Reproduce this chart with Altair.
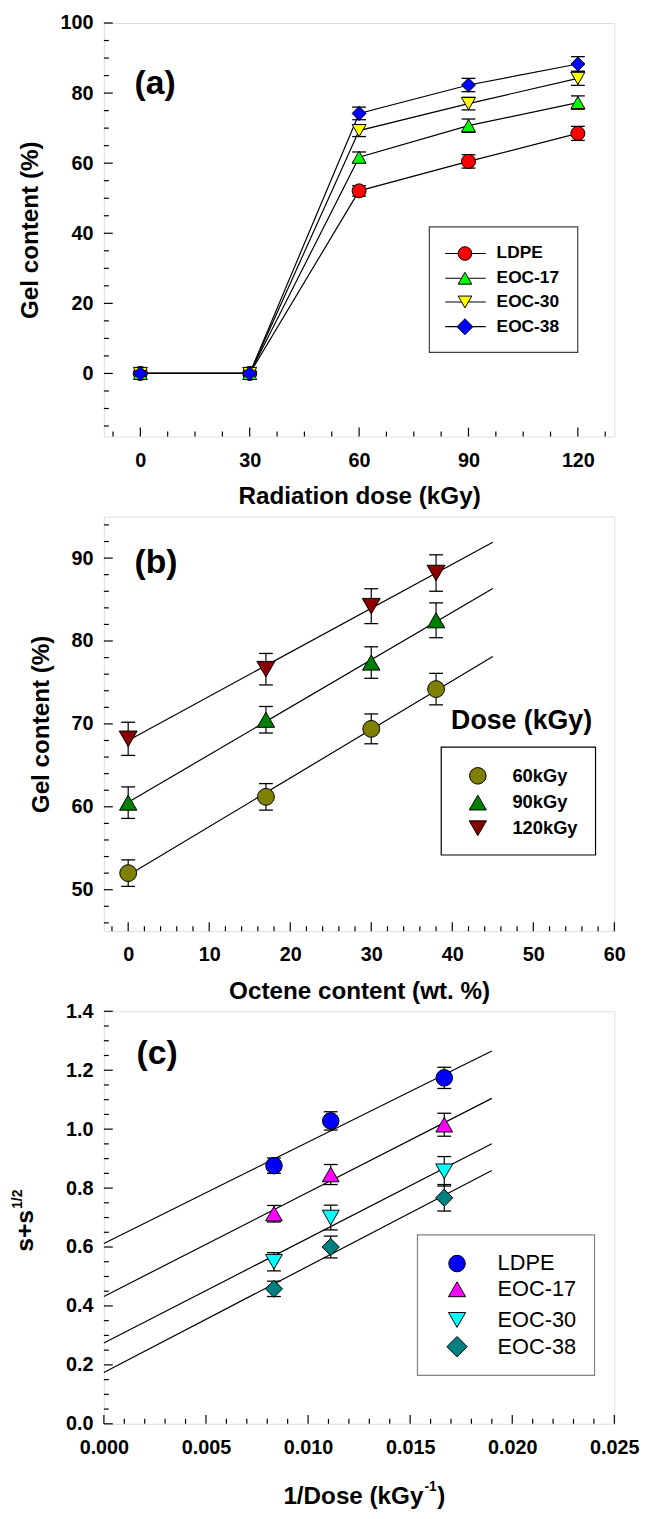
import altair as alt
import pandas as pd

HF = "Liberation Sans"

# ---------------- panel (a): gel content vs radiation dose ----------------
a_dose = [0, 30, 60, 90, 120]
a_names = ["LDPE", "EOC-17", "EOC-30", "EOC-38"]
a_ldpe = [0, 0, 52.1, 60.5, 68.5]
a_eoc17 = [0, 0, 61.7, 70.7, 77.3]
a_eoc30 = [0, 0, 69.3, 77.0, 84.2]
a_eoc38 = [0, 0, 74.2, 82.3, 88.3]
a_ldpe_err = [0, 0, 1.5, 1.9, 2.0]
a_eoc17_err = [0, 0, 1.5, 1.9, 1.9]
a_eoc30_err = [0, 0, 1.7, 1.8, 2.0]
a_eoc38_err = [0, 0, 1.8, 1.9, 2.1]
a_colors = ["#FF0000", "#00FF00", "#FFFF00", "#0000FF"]
a_shapes = ["circle", "triangle-up", "triangle-down", "diamond"]
a_sizes = [200, 200, 200, 280]

# ---------------- panel (b): gel content vs octene content ----------------
b_octene = [0, 17, 30, 38]
b_names = ["60kGy", "90kGy", "120kGy"]
b_60 = [52.0, 61.2, 69.4, 74.2]
b_90 = [60.5, 70.5, 77.4, 82.5]
b_120 = [68.2, 76.6, 84.2, 88.2]
b_60_err = [1.6, 1.6, 1.8, 1.9]
b_90_err = [1.9, 1.6, 1.9, 2.1]
b_120_err = [2.0, 1.9, 2.1, 2.2]
b_colors = ["#808000", "#008000", "#8B0000"]
b_shapes = ["circle", "triangle-up", "triangle-down"]
b_sizes = [290, 330, 330]

# ---------------- panel (c): Charlesby-Pinner ----------------
c_invdose = [0.00833, 0.01111, 0.01667]
c_names = ["LDPE", "EOC-17", "EOC-30", "EOC-38"]
c_ldpe = [0.876, 1.028, 1.174]
c_eoc17 = [0.713, 0.846, 1.015]
c_eoc30 = [0.550, 0.700, 0.857]
c_eoc38 = [0.458, 0.600, 0.767]
c_ldpe_err = [0.026, 0.031, 0.036]
c_eoc17_err = [0.028, 0.034, 0.039]
c_eoc30_err = [0.031, 0.042, 0.050]
c_eoc38_err = [0.026, 0.037, 0.045]
c_colors = ["#0000FF", "#FF00FF", "#00FFFF", "#008080"]
c_shapes = ["circle", "triangle-up", "triangle-down", "diamond"]
c_sizes = [280, 300, 300, 420]

# tick values
a_xmaj = [0, 30, 60, 90, 120]
a_xmin = [v * 7.5 for v in range(-1, 18) if v % 4 != 0]
a_ymaj = [0, 20, 40, 60, 80, 100]
a_ymin = [v for v in range(-15, 100, 5) if v % 20 != 0]
b_xmaj = [0, 10, 20, 30, 40, 50, 60]
b_xmin = [v for v in range(-2, 60, 2) if v % 10 != 0]
b_ymaj = [50, 60, 70, 80, 90]
b_ymin = [v for v in range(46, 96, 2) if v % 10 != 0]
c_xmaj = [0, 0.005, 0.010, 0.015, 0.020, 0.025]
c_xmin = [v / 1000 for v in range(0, 26) if v % 5 != 0]
c_ymaj = [0, 0.2, 0.4, 0.6, 0.8, 1.0, 1.2, 1.4]
c_ymin = [v / 100 for v in range(0, 141, 5) if v % 20 != 0]

one = pd.DataFrame({"k": [0]})


def long_df(xs, names, ys, errs):
    rows = []
    for n, yv, ev in zip(names, ys, errs):
        for x, y, e in zip(xs, yv, ev):
            rows.append({"ser": n, "x": x, "y": y, "err": e, "lo": y - e, "hi": y + e})
    return pd.DataFrame(rows)


def xaxis(values, title, fmt):
    return alt.Axis(values=values, title=title, format=fmt, ticks=False, domain=False, grid=False,
                    labelFont=HF, labelFontSize=20, labelFontWeight="bold", labelColor="black",
                    labelPadding=14, labelFlush=False, labelOverlap=False,
                    titleFont=HF, titleFontSize=24.5, titleFontWeight="bold", titleColor="black",
                    titlePadding=15)


def yaxis(values, title, fmt):
    return alt.Axis(values=values, title=title, format=fmt, ticks=False, domain=False, grid=False,
                    labelFont=HF, labelFontSize=20, labelFontWeight="bold", labelColor="black",
                    labelPadding=11, labelFlush=False, labelOverlap=False,
                    titleFont=HF, titleFontSize=24.5, titleFontWeight="bold", titleColor="black",
                    titlePadding=18)


def inward_ticks(X, ysc, yax, H, xmaj, xmin, ymaj, ymin):
    layers = []
    for vals, ln in ((xmaj, 9), (xmin, 5)):
        layers.append(alt.Chart(pd.DataFrame({"x": vals})).mark_rule(color="black", strokeWidth=1.2)
                      .encode(x=X, y=alt.value(H), y2=alt.value(H - ln)))
    for vals, ln in ((ymaj, 9), (ymin, 5)):
        layers.append(alt.Chart(pd.DataFrame({"y": vals})).mark_rule(color="black", strokeWidth=1.2)
                      .encode(y=alt.Y("y:Q", scale=ysc, axis=yax), x=alt.value(0), x2=alt.value(ln)))
    return layers


def data_layers(df, X, ysc, yax, names, colors, shapes, sizes, cap=14):
    eb = df[df["err"] > 0]
    Y = alt.Y("y:Q", scale=ysc, axis=yax)
    Ylo = alt.Y("lo:Q", scale=ysc, axis=yax)
    Yhi = alt.Y("hi:Q", scale=ysc, axis=yax)
    rule = alt.Chart(eb).mark_rule(color="black", strokeWidth=1.2).encode(x=X, y=Ylo, y2="hi:Q")
    cap_hi = alt.Chart(eb).mark_tick(orient="horizontal", size=cap, thickness=1.3, color="black", opacity=1).encode(x=X, y=Yhi)
    cap_lo = alt.Chart(eb).mark_tick(orient="horizontal", size=cap, thickness=1.3, color="black", opacity=1).encode(x=X, y=Ylo)
    pts = alt.Chart(df).mark_point(filled=True, opacity=1, stroke="black", strokeWidth=1).encode(
        x=X, y=Y,
        shape=alt.Shape("ser:N", scale=alt.Scale(domain=names, range=shapes), legend=None),
        fill=alt.Fill("ser:N", scale=alt.Scale(domain=names, range=colors), legend=None),
        size=alt.Size("ser:N", scale=alt.Scale(domain=names, range=sizes), legend=None),
    )
    return [rule, cap_hi, cap_lo, pts]


def legend(names, colors, shapes, sizes, box, sym_x, text_x, rows, font_size, weight, stroke, line=None):
    layers = [alt.Chart(one).mark_rect(fill="white", stroke=stroke, strokeWidth=1.2).encode(
        x=alt.value(box[0]), x2=alt.value(box[1]), y=alt.value(box[2]), y2=alt.value(box[3]))]
    for n, c, s, sz, yy in zip(names, colors, shapes, sizes, rows):
        if line:
            layers.append(alt.Chart(one).mark_rule(color="black", strokeWidth=1.2).encode(
                x=alt.value(line[0]), x2=alt.value(line[1]), y=alt.value(yy)))
        layers.append(alt.Chart(one).mark_point(shape=s, filled=True, fill=c, stroke="black", strokeWidth=1,
                                                size=sz, opacity=1).encode(x=alt.value(sym_x), y=alt.value(yy)))
        layers.append(alt.Chart(one).mark_text(align="left", baseline="middle", font=HF, fontSize=font_size,
                                               fontWeight=weight, color="black").encode(
            x=alt.value(text_x), y=alt.value(yy), text=alt.value(n)))
    return layers


def label(txt, x, y, size=34, weight="bold", angle=0, align="left"):
    kw = dict(align=align, baseline="middle", font=HF, fontSize=size, fontWeight=weight, color="black")
    if angle:
        kw["angle"] = angle
    return alt.Chart(one).mark_text(**kw).encode(x=alt.value(x), y=alt.value(y), text=alt.value(txt))


W = 516

# ---------------- panel a ----------------
HA = 418
XA = alt.X("x:Q", scale=alt.Scale(domain=[-10, 130], nice=False, zero=False),
           axis=xaxis(a_xmaj, "Radiation dose (kGy)", "d"))
ysa = alt.Scale(domain=[-18, 100], nice=False, zero=False)
yaa = yaxis(a_ymaj, "Gel content (%)", "d")
dfa = long_df(a_dose, a_names, [a_ldpe, a_eoc17, a_eoc30, a_eoc38],
              [a_ldpe_err, a_eoc17_err, a_eoc30_err, a_eoc38_err])
lines_a = alt.Chart(dfa).mark_line(color="black", strokeWidth=1.2).encode(
    x=XA, y=alt.Y("y:Q", scale=ysa, axis=yaa), detail="ser:N")
panel_a = alt.layer(
    lines_a,
    *data_layers(dfa, XA, ysa, yaa, a_names, a_colors, a_shapes, a_sizes),
    *inward_ticks(XA, ysa, yaa, HA, a_xmaj, a_xmin, a_ymaj, a_ymin),
    *legend(a_names, a_colors, a_shapes, [190, 190, 190, 260], (329, 479, 206, 333), 365, 397,
            [233, 258, 282, 307], 17.5, "bold", "#404040", line=(345, 386)),
    label("(a)", 31, 62),
).properties(width=W, height=HA)

# ---------------- panel b ----------------
HB = 419
XB = alt.X("x:Q", scale=alt.Scale(domain=[-3, 60], nice=False, zero=False),
           axis=xaxis(b_xmaj, "Octene content (wt. %)", "d"))
ysb = alt.Scale(domain=[45, 95], nice=False, zero=False)
yab = yaxis(b_ymaj, "Gel content (%)", "d")
dfb = long_df(b_octene, b_names, [b_60, b_90, b_120], [b_60_err, b_90_err, b_120_err])
fit_b = alt.Chart(dfb).transform_regression("x", "y", groupby=["ser"], extent=[0, 45]).mark_line(
    color="black", strokeWidth=1.2).encode(x=XB, y=alt.Y("y:Q", scale=ysb, axis=yab), detail="ser:N")
panel_b = alt.layer(
    fit_b,
    *data_layers(dfb, XB, ysb, yab, b_names, b_colors, b_shapes, b_sizes),
    *inward_ticks(XB, ysb, yab, HB, b_xmaj, b_xmin, b_ymaj, b_ymin),
    *legend(b_names, b_colors, b_shapes, [280, 300, 300], (341, 497, 233, 342), 378, 413,
            [262, 289, 315], 18.5, "bold", "black"),
    label("Dose (kGy)", 351, 207, size=27),
    label("(b)", 31, 47),
).properties(width=W, height=HB)

# ---------------- panel c ----------------
HC = 417
XC = alt.X("x:Q", scale=alt.Scale(domain=[0, 0.025], nice=False, zero=False),
           axis=xaxis(c_xmaj, "", ".3f"))
ysc_ = alt.Scale(domain=[0, 1.4], nice=False, zero=False)
yac = yaxis(c_ymaj, "", ".1f")
dfc = long_df(c_invdose, c_names, [c_ldpe, c_eoc17, c_eoc30, c_eoc38],
              [c_ldpe_err, c_eoc17_err, c_eoc30_err, c_eoc38_err])
fit_c = alt.Chart(dfc).transform_regression("x", "y", groupby=["ser"], extent=[0, 0.019]).mark_line(
    color="black", strokeWidth=1.2).encode(x=XC, y=alt.Y("y:Q", scale=ysc_, axis=yac), detail="ser:N")
panel_c = alt.layer(
    fit_c,
    *data_layers(dfc, XC, ysc_, yac, c_names, c_colors, c_shapes, c_sizes),
    *inward_ticks(XC, ysc_, yac, HC, c_xmaj, c_xmin, c_ymaj, c_ymin),
    *legend(c_names, c_colors, c_shapes, [280, 300, 300, 420], (317, 496, 226, 368), 357, 398,
            [255, 281, 312, 339], 22, "normal", "#808080"),
    label("(c)", 33, 43),
    label("s+s", -80, 222, size=25, angle=270, align="center"),
    label("1/2", -87, 190, size=14, angle=270, align="center"),
    label("1/Dose (kGy", 323, 491, size=24.5, align="right"),
    label("-1", 324, 481, size=14),
    label(")", 337, 491, size=24.5),
).properties(width=W, height=HC)

chart = alt.vconcat(panel_a, panel_b, panel_c, spacing=81, bounds="flush").resolve_scale(
    fill="independent", shape="independent", size="independent"
).properties(
    padding={"left": 10, "top": 4, "right": 5, "bottom": 5}
).configure_view(stroke="black", strokeWidth=1.5).configure(background="white")

chart.save("out.html", embed_options={"renderer": "svg", "actions": False})
